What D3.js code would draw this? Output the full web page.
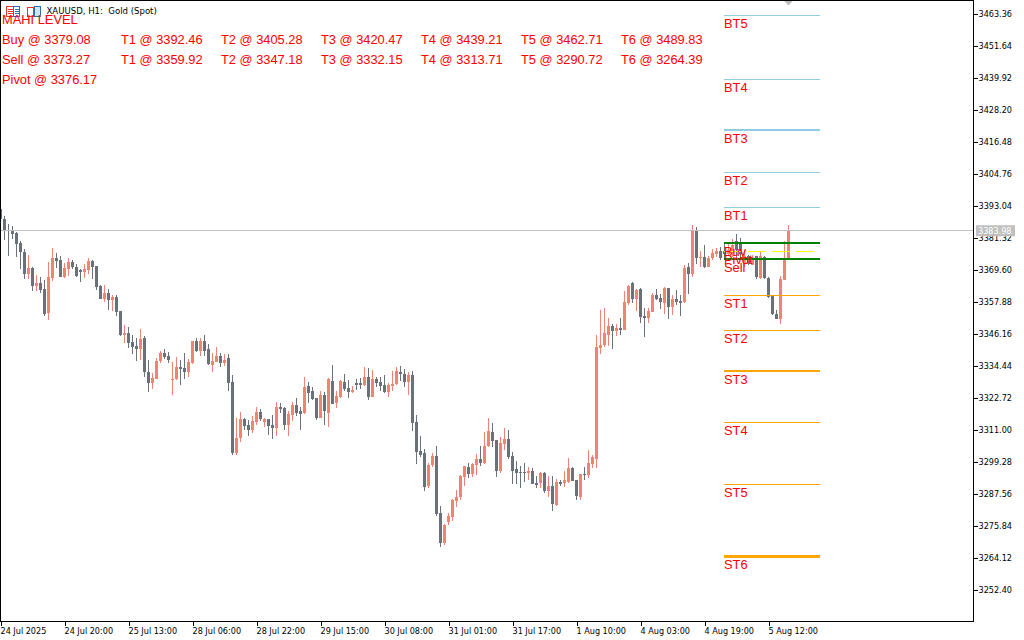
<!DOCTYPE html>
<html lang="en">
<head>
    <meta charset="UTF-8">
    <title>XAUUSD, H1: Gold (Spot)</title>
    <script src="https://d3js.org/d3.v7.min.js"></script>
    <style>
        body { margin: 0; background-color: #ffffff; }
        svg { display: block; }
        .axis text {
            font-family: "DejaVu Sans Condensed", "Liberation Sans", sans-serif;
            font-size: 9px;
            fill: #000000;
        }
        .axis line { stroke: #000000; shape-rendering: crispEdges; }
        .note {
            font-family: "Liberation Sans", Arial, sans-serif;
            font-size: 12.85px;
            fill: #ff0000;
        }
        .title {
            font-family: "DejaVu Sans Condensed", "Liberation Sans", sans-serif;
            font-size: 9.5px;
            fill: #000000;
            white-space: pre;
        }
        .tag {
            font-family: "DejaVu Sans Condensed", "Liberation Sans", sans-serif;
            font-size: 9px;
            fill: #ffffff;
        }
    </style>
</head>
<body>
    <svg></svg>

    <script>
        // candle values, one entry per H1 bar
        const opens = [
            3391.8, 3388.1, 3384.1, 3383.7, 3383.0, 3379.3, 3376.0, 3367.9, 3370.1, 3363.6,
            3364.7, 3362.5, 3353.7, 3366.5, 3373.8, 3373.1, 3366.8, 3369.8, 3372.3, 3370.5,
            3369.4, 3368.7, 3369.4, 3372.7, 3370.9, 3363.6, 3358.8, 3361.0, 3358.4, 3359.5,
            3354.4, 3345.6, 3346.3, 3343.0, 3341.6, 3340.5, 3344.5, 3332.1, 3328.0, 3329.5,
            3336.1, 3339.0, 3337.9, 3329.1, 3329.5, 3333.9, 3333.5, 3332.1, 3335.4, 3343.4,
            3339.7, 3343.4, 3340.5, 3334.6, 3335.7, 3337.9, 3335.4, 3337.2, 3328.4, 3302.4,
            3307.9, 3314.8, 3312.6, 3310.8, 3313.7, 3317.4, 3313.7, 3314.8, 3312.6, 3311.5,
            3319.2, 3318.9, 3312.6, 3316.3, 3320.0, 3317.8, 3317.0, 3326.9, 3325.1, 3322.5,
            3315.2, 3323.6, 3317.0, 3328.8, 3320.7, 3322.9, 3328.4, 3326.2, 3324.7, 3328.0,
            3328.0, 3327.3, 3330.2, 3322.9, 3329.5, 3328.4, 3327.3, 3324.7, 3326.9, 3327.7,
            3332.1, 3331.3, 3328.4, 3331.0, 3313.7, 3303.1, 3302.4, 3290.3, 3298.0, 3301.3,
            3280.4, 3269.4, 3277.1, 3278.9, 3284.8, 3286.3, 3293.6, 3297.3, 3294.7, 3298.0,
            3300.2, 3298.7, 3304.9, 3310.1, 3307.2, 3295.8, 3305.7, 3307.5, 3301.3, 3296.5,
            3295.4, 3295.4, 3295.1, 3295.8, 3291.4, 3291.4, 3295.1, 3288.5, 3290.3, 3283.3,
            3291.8, 3291.4, 3291.8, 3296.9, 3292.5, 3286.3, 3294.7, 3294.3, 3298.4, 3300.2,
            3340.8, 3341.9, 3345.6, 3348.9, 3347.1, 3348.2, 3347.4, 3357.3, 3364.7, 3358.8,
            3362.5, 3352.6, 3351.8, 3354.0, 3360.3, 3359.2, 3357.3, 3362.8, 3355.9, 3358.8,
            3358.1, 3357.7, 3370.5, 3367.9, 3383.7, 3373.8, 3374.2, 3370.5, 3373.8, 3375.3,
            3376.4, 3376.4, 3375.3, 3375.3, 3380.0, 3379.7, 3372.0, 3374.5, 3371.2, 3374.5,
            3366.5, 3374.2, 3366.5, 3359.9, 3353.3, 3351.5, 3365.8, 3373.4
        ];
        const highs = [
            3392.1, 3389.2, 3386.3, 3385.5, 3383.3, 3380.0, 3377.1, 3374.9, 3370.5, 3367.6,
            3366.8, 3365.8, 3372.3, 3377.5, 3375.6, 3374.5, 3372.0, 3373.8, 3373.1, 3371.6,
            3369.8, 3371.6, 3373.8, 3373.1, 3370.9, 3363.9, 3363.9, 3362.5, 3360.3, 3360.3,
            3354.4, 3349.3, 3348.5, 3345.6, 3344.5, 3347.8, 3345.2, 3336.5, 3331.7, 3337.2,
            3339.7, 3340.5, 3339.4, 3335.7, 3337.6, 3336.5, 3339.0, 3336.8, 3343.4, 3344.5,
            3344.5, 3345.6, 3342.3, 3339.0, 3341.2, 3339.0, 3338.6, 3338.6, 3331.0, 3315.2,
            3317.4, 3315.2, 3314.5, 3315.9, 3319.2, 3318.5, 3315.2, 3314.8, 3316.3, 3321.1,
            3320.7, 3319.2, 3317.8, 3321.1, 3322.5, 3319.2, 3330.2, 3328.4, 3326.6, 3322.5,
            3325.1, 3324.7, 3329.9, 3334.6, 3325.1, 3329.1, 3331.3, 3329.1, 3326.9, 3329.5,
            3329.9, 3333.9, 3333.5, 3332.8, 3330.2, 3330.2, 3331.0, 3328.0, 3332.4, 3333.9,
            3334.3, 3333.2, 3332.1, 3332.4, 3316.3, 3308.6, 3303.9, 3298.7, 3302.4, 3304.9,
            3283.0, 3276.4, 3280.4, 3285.5, 3288.9, 3294.3, 3297.6, 3298.7, 3298.7, 3302.0,
            3304.9, 3310.1, 3315.2, 3313.4, 3307.2, 3308.2, 3311.5, 3310.8, 3302.8, 3299.5,
            3297.6, 3298.7, 3297.3, 3296.9, 3294.0, 3295.4, 3295.4, 3294.0, 3294.0, 3292.9,
            3292.5, 3295.8, 3300.6, 3297.3, 3292.5, 3294.7, 3297.3, 3303.5, 3301.7, 3345.6,
            3354.8, 3355.5, 3351.8, 3349.6, 3349.6, 3351.8, 3361.7, 3363.9, 3365.0, 3362.5,
            3362.8, 3355.5, 3355.5, 3361.0, 3362.5, 3360.6, 3363.2, 3362.8, 3360.3, 3362.1,
            3360.3, 3371.2, 3372.0, 3385.9, 3385.2, 3376.4, 3378.6, 3374.5, 3377.1, 3377.5,
            3377.8, 3379.3, 3379.7, 3380.8, 3382.6, 3381.1, 3376.7, 3374.9, 3374.9, 3374.5,
            3376.0, 3374.5, 3366.8, 3360.3, 3354.8, 3367.2, 3380.0, 3385.9
        ];
        const lows = [
            3387.7, 3380.4, 3374.5, 3380.8, 3374.2, 3369.8, 3366.1, 3366.1, 3361.7, 3361.7,
            3361.0, 3352.6, 3351.1, 3365.4, 3370.1, 3366.8, 3366.5, 3367.2, 3369.8, 3366.8,
            3365.0, 3366.5, 3367.9, 3366.1, 3362.1, 3358.8, 3357.7, 3354.8, 3354.4, 3352.6,
            3345.2, 3342.7, 3340.8, 3338.6, 3336.1, 3336.5, 3330.2, 3324.7, 3325.8, 3329.5,
            3335.4, 3336.8, 3335.4, 3323.6, 3329.1, 3327.3, 3329.5, 3330.2, 3335.0, 3339.4,
            3337.9, 3337.9, 3334.6, 3332.1, 3335.7, 3333.9, 3334.2, 3325.1, 3301.7, 3301.7,
            3306.4, 3310.8, 3308.6, 3309.7, 3312.6, 3314.1, 3311.9, 3309.0, 3307.5, 3308.6,
            3317.0, 3310.8, 3308.6, 3314.1, 3315.9, 3310.8, 3316.7, 3320.7, 3321.8, 3314.5,
            3315.2, 3312.6, 3311.9, 3320.3, 3318.9, 3322.5, 3325.1, 3322.5, 3324.4, 3325.5,
            3325.8, 3326.9, 3321.8, 3322.9, 3326.6, 3325.1, 3324.4, 3322.9, 3325.1, 3327.3,
            3328.8, 3326.6, 3323.6, 3310.4, 3298.4, 3300.9, 3288.5, 3289.6, 3297.3, 3279.3,
            3268.0, 3268.7, 3276.0, 3277.5, 3282.6, 3285.2, 3290.3, 3293.2, 3293.6, 3294.3,
            3297.6, 3298.4, 3304.6, 3304.6, 3293.6, 3295.1, 3303.5, 3300.2, 3291.0, 3291.0,
            3289.6, 3291.8, 3292.5, 3291.0, 3289.6, 3289.6, 3287.7, 3286.3, 3281.2, 3283.0,
            3290.3, 3289.9, 3291.4, 3292.1, 3285.2, 3285.2, 3292.5, 3293.2, 3296.9, 3296.9,
            3338.6, 3341.2, 3341.6, 3340.5, 3345.2, 3345.6, 3347.4, 3356.6, 3357.3, 3354.4,
            3350.0, 3344.9, 3350.0, 3354.0, 3358.4, 3355.1, 3353.3, 3351.5, 3352.9, 3356.6,
            3352.6, 3357.3, 3360.6, 3366.8, 3371.6, 3370.5, 3370.1, 3370.5, 3373.1, 3374.2,
            3373.1, 3373.8, 3374.9, 3374.2, 3374.2, 3373.1, 3370.5, 3371.2, 3371.2, 3366.1,
            3366.1, 3366.1, 3359.2, 3352.9, 3351.5, 3349.6, 3365.8, 3373.4
        ];
        const closes = [
            3388.1, 3383.7, 3383.7, 3382.6, 3378.9, 3376.0, 3367.9, 3370.1, 3363.6, 3364.7,
            3362.1, 3353.3, 3366.8, 3373.8, 3372.7, 3366.8, 3370.1, 3372.3, 3370.5, 3367.2,
            3368.7, 3369.8, 3372.7, 3370.5, 3363.2, 3358.8, 3361.0, 3358.4, 3359.5, 3354.0,
            3345.6, 3346.3, 3342.7, 3341.2, 3340.5, 3344.1, 3332.1, 3328.0, 3329.9, 3336.1,
            3339.0, 3337.6, 3336.5, 3329.5, 3333.9, 3333.2, 3332.1, 3335.7, 3343.4, 3339.7,
            3343.4, 3339.7, 3335.0, 3336.1, 3337.9, 3335.4, 3336.5, 3328.0, 3302.4, 3307.9,
            3314.8, 3312.3, 3310.8, 3314.1, 3317.4, 3314.8, 3314.8, 3312.3, 3311.5, 3319.2,
            3318.5, 3312.6, 3316.7, 3320.0, 3317.0, 3316.7, 3326.6, 3324.4, 3322.2, 3315.2,
            3323.6, 3317.8, 3329.5, 3320.3, 3323.3, 3328.8, 3325.8, 3324.7, 3325.5, 3327.3,
            3327.3, 3330.2, 3322.9, 3329.5, 3328.0, 3326.9, 3324.7, 3327.3, 3327.7, 3332.4,
            3331.3, 3328.4, 3331.0, 3313.4, 3302.8, 3301.7, 3289.9, 3298.0, 3301.3, 3280.0,
            3269.4, 3276.0, 3279.3, 3285.2, 3286.3, 3294.0, 3297.6, 3294.7, 3298.4, 3300.2,
            3298.7, 3304.9, 3310.4, 3306.8, 3295.8, 3306.1, 3307.5, 3300.9, 3295.8, 3295.1,
            3295.1, 3295.1, 3295.8, 3291.0, 3290.7, 3295.1, 3288.5, 3290.3, 3283.7, 3291.8,
            3291.0, 3292.5, 3296.9, 3292.1, 3286.7, 3294.7, 3294.3, 3298.7, 3300.9, 3341.2,
            3341.9, 3346.3, 3348.9, 3347.1, 3348.2, 3347.4, 3357.7, 3363.6, 3358.8, 3362.1,
            3352.2, 3351.8, 3354.4, 3360.3, 3358.8, 3357.7, 3362.8, 3355.9, 3358.8, 3357.7,
            3357.3, 3370.1, 3367.9, 3383.7, 3373.8, 3374.2, 3370.5, 3373.8, 3375.6, 3376.4,
            3373.8, 3375.3, 3376.7, 3378.6, 3376.7, 3375.3, 3374.5, 3371.6, 3374.2, 3366.8,
            3374.5, 3366.5, 3359.5, 3353.3, 3351.5, 3366.1, 3373.1, 3384.1
        ];

        const priceTicks = [3463.36, 3451.64, 3439.92, 3428.20, 3416.48, 3404.76, 3393.04, 3381.32, 3369.60, 3357.88,
            3346.16, 3334.44, 3322.72, 3311.00, 3299.28, 3287.56, 3275.84, 3264.12, 3252.40];
        const timeLabels = ["24 Jul 2025", "24 Jul 20:00", "25 Jul 13:00", "28 Jul 06:00", "28 Jul 22:00", "29 Jul 15:00",
            "30 Jul 08:00", "31 Jul 01:00", "31 Jul 17:00", "1 Aug 10:00", "4 Aug 03:00", "4 Aug 19:00", "5 Aug 12:00"];
        const timeTickBars = [0, 16, 32, 48, 64, 80, 96, 112, 128, 144, 160, 176, 192];

        const bidPrice = 3383.98;
        const buyPrice = 3379.08;
        const sellPrice = 3373.27;
        const pivotPrice = 3376.17;
        const buyTargets = [3392.46, 3405.28, 3420.47, 3439.21, 3462.71, 3489.83];
        const sellTargets = [3359.92, 3347.18, 3332.15, 3313.71, 3290.72, 3264.39];

        const width = 1024, height = 640;
        const plotRight = 973, plotBottom = 621;
        const bullColor = "#f08474", bearColor = "#6a7179";
        const levelFrom = 180.875, levelTo = 204.875;  // level lines run over these bars

        const svg = d3.select("svg").attr("width", width).attr("height", height);

        const x = d3.scaleLinear().domain([0, 197]).range([0.5, 788.5]);
        const y = d3.scaleLinear().domain([3463.36, 3252.40]).range([13.5, 589.5]);

        // candles
        const candles = svg.append("g")
            .selectAll("g")
            .data(opens.map((o, i) => ({ i, o, h: highs[i], l: lows[i], c: closes[i] })))
            .enter().append("g")
            .attr("shape-rendering", "crispEdges");

        candles.append("rect")
            .attr("x", d => Math.round(x(d.i) - 0.5))
            .attr("width", 1)
            .attr("y", d => y(d.h))
            .attr("height", d => y(d.l) - y(d.h))
            .attr("fill", d => d.c >= d.o ? bullColor : bearColor);

        candles.append("rect")
            .attr("x", d => Math.round(x(d.i) - 1.5))
            .attr("width", 3)
            .attr("y", d => y(Math.max(d.o, d.c)))
            .attr("height", d => Math.max(1, Math.abs(y(d.o) - y(d.c))))
            .attr("fill", d => d.c >= d.o ? bullColor : bearColor);

        // bid line and marker on top of the last bar
        svg.append("line")
            .attr("x1", 0).attr("x2", plotRight)
            .attr("y1", Math.round(y(bidPrice)) + 0.5).attr("y2", Math.round(y(bidPrice)) + 0.5)
            .attr("stroke", "#c0c0c0")
            .attr("shape-rendering", "crispEdges");

        svg.append("path")
            .attr("d", d3.line()([[x(197) - 5, 0], [x(197) + 5, 0], [x(197), 5.5]]))
            .attr("fill", "#bdbdbd");

        // level lines, snapped to whole pixel rows
        function levelRow(price, weight) {
            return weight === 1 ? Math.floor(y(price)) + 0.5 : Math.floor(y(price) - weight / 2) + weight / 2;
        }

        function levelLine(price, color, weight) {
            const py = levelRow(price, weight);
            return svg.append("line")
                .attr("x1", x(levelFrom)).attr("x2", x(levelTo))
                .attr("y1", py).attr("y2", py)
                .attr("stroke", color)
                .attr("stroke-width", weight)
                .attr("shape-rendering", "crispEdges");
        }

        const buyWeights = [1, 1, 2, 1, 1];
        const sellWeights = [1, 1, 2, 1, 1, 3];
        buyTargets.slice(0, 5).forEach((p, i) => levelLine(p, "#90cde4", buyWeights[i]));
        sellTargets.forEach((p, i) => levelLine(p, "#ffa500", sellWeights[i]));
        levelLine(pivotPrice, "#ffff00", 1).attr("stroke-dasharray", "18,6");
        levelLine(buyPrice, "#008000", 2);
        levelLine(sellPrice, "#008000", 2);

        // labels under the level lines
        function levelLabel(price, label, weight) {
            svg.append("text")
                .attr("class", "note")
                .attr("x", x(levelFrom))
                .attr("y", Math.floor(levelRow(price, weight)) + 13)
                .text(label);
        }

        buyTargets.slice(0, 5).forEach((p, i) => levelLabel(p, "BT" + (i + 1), buyWeights[i]));
        sellTargets.forEach((p, i) => levelLabel(p, "ST" + (i + 1), sellWeights[i]));
        levelLabel(buyPrice, "Buy", 2);
        levelLabel(pivotPrice, "Pivot", 1);
        levelLabel(sellPrice, "Sell", 2);

        // frame
        const frame = svg.append("g").attr("stroke", "#000000").attr("shape-rendering", "crispEdges");
        frame.append("line").attr("x1", 0).attr("x2", plotRight + 1).attr("y1", 0.5).attr("y2", 0.5);
        frame.append("line").attr("x1", 0.5).attr("x2", 0.5).attr("y1", 0).attr("y2", plotBottom + 1);
        frame.append("line").attr("x1", plotRight + 0.5).attr("x2", plotRight + 0.5).attr("y1", 0).attr("y2", plotBottom + 1);
        frame.append("line").attr("x1", 0).attr("x2", plotRight + 1).attr("y1", plotBottom + 0.5).attr("y2", plotBottom + 0.5);

        // axes
        const yAxis = svg.append("g")
            .attr("class", "axis")
            .attr("transform", "translate(" + (plotRight + 0.5) + ",0)")
            .call(d3.axisRight(y).tickValues(priceTicks).tickFormat(d3.format(".2f")).tickSize(4).tickPadding(1));
        yAxis.select(".domain").remove();

        const xAxis = svg.append("g")
            .attr("class", "axis")
            .attr("transform", "translate(0," + (plotBottom + 0.5) + ")")
            .call(d3.axisBottom(x).tickValues(timeTickBars).tickFormat((d, i) => timeLabels[i]).tickSize(4).tickPadding(2));
        xAxis.select(".domain").remove();
        xAxis.selectAll("text").attr("text-anchor", "start").attr("dx", "-0.5");

        // current price tag
        svg.append("rect")
            .attr("x", 976).attr("width", 39)
            .attr("y", y(bidPrice) - 5).attr("height", 11)
            .attr("fill", "#c0c0c0");
        svg.append("text")
            .attr("class", "tag")
            .attr("x", 978)
            .attr("y", y(bidPrice) + 3.5)
            .text(d3.format(".2f")(bidPrice));

        // chart header with its two small window icons
        const icons = svg.append("g").attr("fill", "none").attr("shape-rendering", "crispEdges");
        icons.append("rect").attr("x", 6.5).attr("y", 6.5).attr("width", 7).attr("height", 10).attr("stroke", "#e0392b");
        [9, 11, 13].forEach(v => icons.append("line").attr("x1", 8).attr("x2", 13).attr("y1", v + 0.5).attr("y2", v + 0.5).attr("stroke", "#e0392b"));
        icons.append("rect").attr("x", 13.5).attr("y", 6.5).attr("width", 6).attr("height", 10).attr("stroke", "#2c6fb0");
        [9, 11, 13].forEach(v => icons.append("line").attr("x1", 15).attr("x2", 19).attr("y1", v + 0.5).attr("y2", v + 0.5).attr("stroke", "#2c6fb0"));
        icons.append("rect").attr("x", 27.5).attr("y", 7.5).attr("width", 6).attr("height", 9).attr("stroke", "#e0392b");
        icons.append("rect").attr("x", 34.5).attr("y", 6.5).attr("width", 6).attr("height", 10).attr("stroke", "#2c6fb0").attr("fill", "#cfe4f5");

        svg.append("text")
            .attr("class", "title")
            .attr("x", 46.5)
            .attr("y", 14)
            .text("XAUUSD, H1:  Gold (Spot)");

        // text block in the corner
        const fmt = d3.format(".2f");
        const noteRows = [
            ["MAHI LEVEL", 24],
            ["Buy @ " + fmt(buyPrice), 44],
            ["Sell @ " + fmt(sellPrice), 64],
            ["Pivot @ " + fmt(pivotPrice), 84]
        ];
        noteRows.forEach(row => {
            svg.append("text").attr("class", "note").attr("x", 2).attr("y", row[1]).text(row[0]);
        });

        [buyTargets, sellTargets].forEach((targets, r) => {
            targets.forEach((p, i) => {
                svg.append("text")
                    .attr("class", "note")
                    .attr("x", 121 + i * 100)
                    .attr("y", 44 + r * 20)
                    .text("T" + (i + 1) + " @ " + fmt(p));
            });
        });
    </script>
</body>
</html>
